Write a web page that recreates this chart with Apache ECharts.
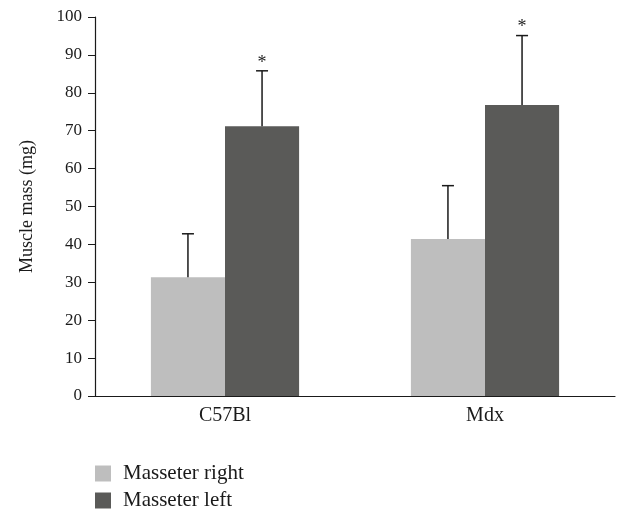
<!DOCTYPE html>
<html>
<head>
<meta charset="utf-8">
<script src="https://cdn.jsdelivr.net/npm/echarts@6/dist/echarts.min.js"></script>
<style>
  html, body { margin: 0; padding: 0; background: #fff; }
  #chart { width: 617px; height: 510px; }
</style>
</head>
<body>
<div id="chart"></div>
<script>
const groups = ['C57Bl', 'Mdx']
const seriesNames = ['Masseter right', 'Masseter left']
const rightMass = [31.3, 41.4]
const leftMass = [71.2, 76.8]
const rightErr = [11.5, 14.1]
const leftErr = [14.6, 18.3]
const leftSig = ['*', '*']
const yTicks = { min: 0, max: 100, step: 10 }

const FONT = '"Liberation Serif", "DejaVu Serif", serif'
const LIGHT = '#bebebe'
const DARK = '#5a5a58'
const BAR_FRAC = 0.285

// upward-only error bars, optional mark above the cap
function errorSeries(values, errs, side, marks) {
  return {
    type: 'custom',
    silent: true,
    z: 5,
    data: values.map((v, i) => [i, v, v + errs[i], marks ? marks[i] : '']),
    renderItem(params, api) {
      const band = api.size([1, 0])[0]
      const off = side * band * BAR_FRAC / 2
      const base = api.coord([api.value(0), api.value(1)])
      const top = api.coord([api.value(0), api.value(2)])
      const x = base[0] + off
      const children = [
        { type: 'line', shape: { x1: x, y1: base[1], x2: x, y2: top[1] }, style: { stroke: '#1a1a1a', lineWidth: 1.5 } },
        { type: 'line', shape: { x1: x - 6, y1: top[1], x2: x + 6, y2: top[1] }, style: { stroke: '#1a1a1a', lineWidth: 1.5 } }
      ]
      const mark = api.value(3)
      if (mark) {
        children.push({
          type: 'text',
          style: { x: x, y: top[1] + 1, text: mark, fill: '#222', font: '18px ' + FONT, align: 'center', verticalAlign: 'bottom' }
        })
      }
      return { type: 'group', children }
    }
  }
}

// one legend per row so the bottom edge cannot wrap them
function legendRow(name, top) {
  return {
    left: 95,
    top: top,
    padding: 0,
    itemWidth: 16,
    itemHeight: 16,
    icon: 'rect',
    data: [name],
    textStyle: { fontFamily: FONT, fontSize: 21, color: '#1a1a1a', padding: [0, 0, 0, 7] }
  }
}

const chart = echarts.init(document.getElementById('chart'), null, { renderer: 'canvas' })
chart.setOption({
  animation: false,
  textStyle: { fontFamily: FONT },
  grid: { left: 95, right: 2, top: 17, bottom: 114 },
  legend: [legendRow(seriesNames[0], 463), legendRow(seriesNames[1], 490)],
  xAxis: {
    type: 'category',
    data: groups,
    axisLine: { lineStyle: { color: '#1a1a1a', width: 1.2 } },
    axisTick: { length: 8, lineStyle: { color: '#1a1a1a' } },
    axisLabel: { fontFamily: FONT, fontSize: 20, color: '#1a1a1a', margin: 10 }
  },
  yAxis: {
    type: 'value',
    min: yTicks.min,
    max: yTicks.max,
    interval: yTicks.step,
    name: 'Muscle mass (mg)',
    nameLocation: 'middle',
    nameGap: 59,
    nameTextStyle: { fontFamily: FONT, fontSize: 18, color: '#1a1a1a' },
    axisLine: { show: true, lineStyle: { color: '#1a1a1a', width: 1.2 } },
    axisTick: { show: true, length: 7, lineStyle: { color: '#1a1a1a' } },
    axisLabel: { fontFamily: FONT, fontSize: 17, color: '#1a1a1a', margin: 13 },
    splitLine: { show: false }
  },
  series: [
    { name: seriesNames[0], type: 'bar', data: rightMass, barWidth: (BAR_FRAC * 100) + '%', barGap: '0%', itemStyle: { color: LIGHT } },
    { name: seriesNames[1], type: 'bar', data: leftMass, barWidth: (BAR_FRAC * 100) + '%', barGap: '0%', itemStyle: { color: DARK } },
    errorSeries(rightMass, rightErr, -1, null),
    errorSeries(leftMass, leftErr, 1, leftSig)
  ]
})
</script>
</body>
</html>
